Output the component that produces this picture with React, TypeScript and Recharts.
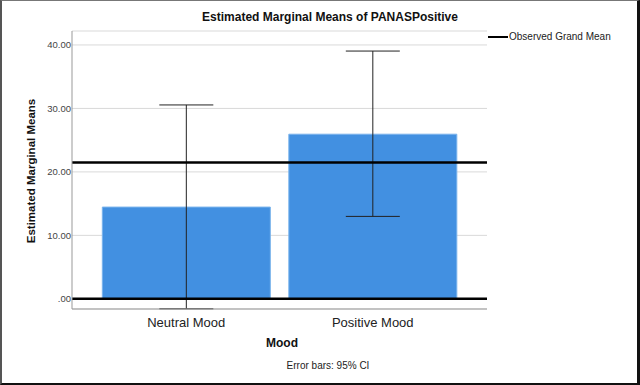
import React from "react";
import { ComposedChart, Bar, ErrorBar, XAxis, YAxis, CartesianGrid, ReferenceLine } from "recharts";

const moods = ["Neutral Mood", "Positive Mood"];
const means = [14.46, 25.94];
const ciLower = [-1.57, 12.99];
const ciUpper = [30.55, 39.04];
const grandMean = 21.48;
const yTicks = [0, 10, 20, 30, 40];

const data = moods.map((m, i) => ({
  mood: m,
  mean: means[i],
  ci: [means[i] - ciLower[i], ciUpper[i] - means[i]],
}));

const font = "'Liberation Sans', Arial, sans-serif";

export default function App() {
  return (
    <div
      style={{
        position: "absolute",
        left: 0,
        top: 0,
        width: 640,
        height: 385,
        boxSizing: "border-box",
        background: "#fff",
        borderLeft: "2px solid #555",
        borderTop: "1px solid #777",
        borderRight: "3px solid #111",
        borderBottom: "2px solid #111",
        fontFamily: font,
      }}
    >
      <div style={{ position: "absolute", left: -2, top: -1 }}>
        <ComposedChart
          width={640}
          height={385}
          data={data}
          margin={{ top: 31, right: 153, bottom: 46, left: 0 }}
          barCategoryGap="5%"
        >
          <CartesianGrid horizontal vertical={false} stroke="#d9d9d9" />
          <XAxis
            dataKey="mood"
            height={30}
            tickLine={false}
            axisLine={{ stroke: "#999" }}
            padding={{ left: 21, right: 21 }}
            tick={{ fontSize: 13, fill: "#222", fontFamily: font }}
            tickMargin={3}
          />
          <YAxis
            width={72}
            domain={[-1.6, 42.2]}
            ticks={yTicks}
            tickLine={false}
            axisLine={{ stroke: "#999" }}
            tickFormatter={(v: number) => (v === 0 ? ".00" : v.toFixed(2))}
            tick={{ fontSize: 9.5, fill: "#444", fontFamily: font, dx: 5 }}
            tickMargin={0}
            interval={0}
          />
          <Bar dataKey="mean" fill="#4290e1" stroke="#7ab3ec" strokeWidth={1} isAnimationActive={false}>
            <ErrorBar dataKey="ci" width={27} stroke="#222" strokeWidth={1} direction="y" />
          </Bar>
          <ReferenceLine y={0} stroke="#000" strokeWidth={2.5} />
          <ReferenceLine y={grandMean} stroke="#000" strokeWidth={2.5} />
        </ComposedChart>
      </div>
      <div style={{ position: "absolute", left: 0, top: 9, width: 656, textAlign: "center", fontSize: 12, fontWeight: "bold", color: "#111" }}>
        Estimated Marginal Means of PANASPositive
      </div>
      <div style={{ position: "absolute", left: 486, top: 35, width: 20, height: 2, background: "#000" }} />
      <div style={{ position: "absolute", left: 507, top: 30, fontSize: 10, color: "#222", whiteSpace: "nowrap" }}>
        Observed Grand Mean
      </div>
      <div
        style={{
          position: "absolute",
          left: 29,
          top: 170,
          transform: "translate(-50%, -50%) rotate(-90deg)",
          fontSize: 11.5,
          fontWeight: "bold",
          color: "#111",
          whiteSpace: "nowrap",
        }}
      >
        Estimated Marginal Means
      </div>
      <div style={{ position: "absolute", left: 180, top: 335, width: 200, textAlign: "center", fontSize: 12, fontWeight: "bold", color: "#111" }}>
        Mood
      </div>
      <div style={{ position: "absolute", left: 226, top: 359, width: 200, textAlign: "center", fontSize: 10, color: "#222" }}>
        Error bars: 95% CI
      </div>
    </div>
  );
}
